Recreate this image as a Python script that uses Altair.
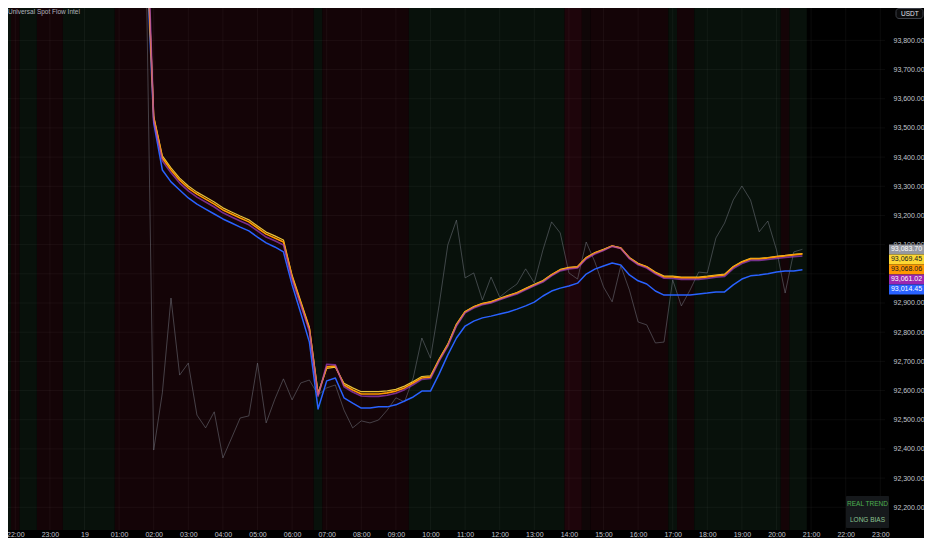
import altair as alt
import pandas as pd

# ---------------- data ----------------
AXIS_START = "2025-11-18 22:00"      # first labelled hour on the time axis
SERIES_START = "2025-11-19 01:45"    # first 15-minute bar of the plotted lines

spot = [94300, 92396, 92592, 92917, 92653, 92694, 92516, 92472, 92527, 92369, 92437, 92506, 92513,
        92694, 92489, 92570, 92640, 92568, 92626, 92636, 92585, 92609, 92619, 92533, 92472, 92496,
        92489, 92499, 92533, 92575, 92561, 92643, 92780, 92711, 92893, 93099, 93184, 92986, 93003,
        92910, 92989, 92920, 92944, 92965, 93017, 92969, 93082, 93178, 93140, 93003, 92982, 93109,
        93041, 92955, 92904, 93027, 92944, 92835, 92825, 92763, 92766, 92979, 92890, 92944, 93006,
        93003, 93123, 93174, 93253, 93301, 93253, 93144, 93181, 93082, 92934, 93075, 93084]

yellow = [94290, 93540, 93404, 93363, 93328, 93301, 93280, 93263, 93246, 93226, 93212, 93198, 93185,
          93164, 93143, 93130, 93116, 92995, 92906, 92817, 92592, 92676, 92680, 92625, 92609, 92596,
          92596, 92596, 92599, 92604, 92615, 92631, 92648, 92650, 92708, 92759, 92828, 92871, 92888,
          92899, 92905, 92916, 92926, 92936, 92950, 92964, 92977, 92998, 93015, 93022, 93025, 93056,
          93073, 93084, 93096, 93089, 93056, 93036, 93025, 93006, 92992, 92992, 92989, 92989, 92989,
          92992, 92996, 92999, 93025, 93042, 93053, 93053, 93056, 93060, 93063, 93067, 93069]

orange = [94280, 93534, 93397, 93356, 93321, 93294, 93273, 93256, 93239, 93219, 93205, 93191, 93178,
          93157, 93136, 93123, 93109, 92989, 92900, 92811, 92585, 92681, 92684, 92619, 92602, 92588,
          92588, 92588, 92592, 92598, 92609, 92626, 92643, 92646, 92705, 92756, 92825, 92869, 92886,
          92897, 92903, 92914, 92924, 92934, 92948, 92962, 92975, 92996, 93013, 93020, 93023, 93054,
          93071, 93082, 93095, 93088, 93054, 93034, 93023, 93003, 92989, 92989, 92986, 92986, 92986,
          92989, 92993, 92996, 93023, 93040, 93051, 93051, 93054, 93058, 93061, 93065, 93068]

purple = [94420, 93524, 93387, 93346, 93311, 93284, 93263, 93246, 93229, 93209, 93195, 93181, 93168,
          93147, 93126, 93113, 93099, 92980, 92892, 92803, 92580, 92690, 92688, 92613, 92595, 92581,
          92580, 92580, 92584, 92591, 92603, 92620, 92638, 92641, 92701, 92752, 92821, 92866, 92883,
          92894, 92900, 92911, 92921, 92931, 92945, 92959, 92972, 92993, 93010, 93017, 93020, 93051,
          93068, 93080, 93094, 93087, 93052, 93031, 93020, 93000, 92985, 92984, 92981, 92981, 92981,
          92984, 92988, 92991, 93018, 93035, 93046, 93046, 93049, 93053, 93056, 93059, 93061]

blue = [94200, 93517, 93356, 93315, 93287, 93260, 93239, 93222, 93205, 93188, 93174, 93160, 93147,
        93126, 93106, 93092, 93075, 92962, 92866, 92766, 92537, 92633, 92643, 92575, 92557, 92540,
        92540, 92544, 92544, 92551, 92564, 92578, 92598, 92598, 92657, 92722, 92780, 92821, 92838,
        92849, 92855, 92862, 92869, 92879, 92890, 92903, 92924, 92941, 92951, 92958, 92968, 92999,
        93016, 93027, 93037, 93030, 92996, 92976, 92965, 92941, 92927, 92927, 92927, 92927, 92931,
        92934, 92938, 92938, 92962, 92982, 92993, 92996, 93000, 93006, 93010, 93010, 93014]

# last-value price tags on the price scale
tag_names = ["Spot", "Yellow", "Orange", "Purple", "Blue"]
tag_values = [93083.70, 93069.45, 93068.06, 93061.02, 93014.45]
tag_fill = ["#9598a1", "#fdd835", "#ff9800", "#9c27b0", "#2962ff"]
tag_text = ["#ffffff", "#131722", "#131722", "#ffffff", "#ffffff"]

# background regime per run of 15-minute bars (first bar, last bar, state)
band_first = ["2025-11-18 21:30", "2025-11-18 22:00", "2025-11-18 22:15", "2025-11-18 22:45",
              "2025-11-18 23:30", "2025-11-19 01:00", "2025-11-19 06:45", "2025-11-19 07:00",
              "2025-11-19 09:30", "2025-11-19 14:00", "2025-11-19 14:30", "2025-11-19 14:45",
              "2025-11-19 17:00", "2025-11-19 17:15", "2025-11-19 17:45", "2025-11-19 20:15",
              "2025-11-19 20:30"]
band_last = ["2025-11-18 21:45", "2025-11-18 22:00", "2025-11-18 22:30", "2025-11-18 23:15",
             "2025-11-19 00:45", "2025-11-19 06:30", "2025-11-19 06:45", "2025-11-19 09:15",
             "2025-11-19 13:45", "2025-11-19 14:15", "2025-11-19 14:30", "2025-11-19 16:45",
             "2025-11-19 17:00", "2025-11-19 17:30", "2025-11-19 20:00", "2025-11-19 20:15",
             "2025-11-19 20:45"]
band_state = ["bull", "bear", "bull", "bear", "bull", "bear", "bull", "bear", "bull",
              "bear_strong", "bear_dim", "bear", "bull", "bear", "bull", "bear", "bull"]

price_ticks = list(range(92200, 93801, 100))
# the 93,000.00 price label is hidden behind the last-value tags on the price scale
price_labels = [p for p in price_ticks if p != 93000]
hour_ticks = pd.date_range("2025-11-18 22:00", "2025-11-19 23:00", freq="h")

# ---------------- layout ----------------
PLOT_W, PLOT_H = 877, 522
RIGHT, BOTTOM = 39, 8
Y_MIN, Y_MAX = 92122, 93911
X_LEFT_H, X_RIGHT_H = -0.211, 25.136


def ms(ts):
    return int(pd.Timestamp(ts).value // 10**6)


HOUR = 3600 * 1000
axis0 = ms(AXIS_START)
x_domain = [axis0 + X_LEFT_H * HOUR, axis0 + X_RIGHT_H * HOUR]

FONT = "Liberation Sans, Arial, sans-serif"
LABEL = "#c3c6ce"

xscale = alt.Scale(type="utc", domain=x_domain)
xaxis = alt.Axis(values=[ms(t) for t in hour_ticks], title=None, grid=False, ticks=False,
                 tickSize=0, domain=False, labelFlush=False, labelOverlap=False,
                 labelExpr="utchours(datum.value) == 0 ? utcFormat(datum.value, '%d') : utcFormat(datum.value, '%H:%M')",
                 labelBaseline="middle", labelPadding=4, labelFontSize=7, labelFont=FONT,
                 labelColor=LABEL)
yscale = alt.Scale(domain=[Y_MIN, Y_MAX], nice=False, zero=False)
yaxis = alt.Axis(values=price_labels, orient="right", format=",.2f", title=None, grid=False,
                 ticks=False, tickSize=0, domain=False, labelAlign="left", labelPadding=8,
                 labelFontSize=7, labelFont=FONT, labelColor=LABEL, labelBaseline="middle")


def X(field):
    return alt.X(field, type="temporal", scale=xscale, axis=xaxis)


def Y(field):
    return alt.Y(field, type="quantitative", scale=yscale, axis=yaxis)


# bands
half_bar = 7.5 * 60 * 1000
bands = pd.DataFrame({
    "t0": [ms(a) - half_bar for a in band_first],
    "t1": [ms(b) + half_bar for b in band_last],
    "state": band_state,
})
band_layer = alt.Chart(bands).mark_rect(clip=True).encode(
    x=X("t0"), x2="t1",
    color=alt.Color("state:N", legend=None,
                    scale=alt.Scale(domain=["bull", "bear", "bear_strong", "bear_dim"],
                                    range=["#08110b", "#140407", "#1e050b", "#0f0607"])),
)

# grid
vgrid = alt.Chart(pd.DataFrame({"t": [ms(t) for t in hour_ticks]})).mark_rule(
    clip=True, color="#ffffff", opacity=0.045, strokeWidth=1).encode(x=X("t"))
hgrid = alt.Chart(pd.DataFrame({"p": price_ticks})).mark_rule(
    clip=True, color="#ffffff", opacity=0.045, strokeWidth=1).encode(y=Y("p"))


def series_df(values):
    times = pd.date_range(SERIES_START, periods=len(values), freq="15min")
    return pd.DataFrame({"t": [ms(t) for t in times], "v": values})


def line(values, color, width, opacity=1.0):
    return alt.Chart(series_df(values)).mark_line(
        clip=True, color=color, strokeWidth=width, opacity=opacity,
        strokeJoin="round").encode(x=X("t"), y=Y("v"))


spot_layer = line(spot, "#787b86", 1, 0.5)
blue_layer = line(blue, "#2962ff", 1.5)
yellow_layer = line(yellow, "#ffd740", 1.2, 0.9)
orange_layer = line(orange, "#ff9800", 1.6)
purple_layer = line(purple, "#a33fc4", 1.6, 0.7)

# price tags stacked so that they do not overlap
px_per = PLOT_H / (Y_MAX - Y_MIN)
tag_h = 10 / px_per
order = sorted(range(len(tag_values)), key=lambda i: -tag_values[i])
mids = {}
prev = None
for i in order:
    m = tag_values[i] if prev is None else min(tag_values[i], prev - tag_h)
    mids[i] = m
    prev = m
tags = pd.DataFrame({
    "name": tag_names,
    "label": [f"{v:,.2f}" for v in tag_values],
    "mid": [mids[i] for i in range(len(tag_values))],
    "top": [mids[i] + tag_h / 2 for i in range(len(tag_values))],
    "bot": [mids[i] - tag_h / 2 for i in range(len(tag_values))],
    "fill": tag_fill,
    "tc": tag_text,
})
tag_box = alt.Chart(tags).mark_rect().encode(
    x=alt.value(PLOT_W + 4), x2=alt.value(PLOT_W + RIGHT),
    y=Y("top"), y2="bot", color=alt.Color("fill:N", scale=None))
tag_txt = alt.Chart(tags).mark_text(fontSize=7, font=FONT, align="center", baseline="middle").encode(
    x=alt.value(PLOT_W + 4 + (RIGHT - 4) / 2), y=Y("mid"), text="label:N",
    color=alt.Color("tc:N", scale=None))

one = pd.DataFrame({"a": [0]})
title_txt = alt.Chart(one).mark_text(text="Universal Spot Flow Intel", align="left", baseline="middle",
                                     fontSize=6.5, font=FONT, color="#b2b5be").encode(
    x=alt.value(0), y=alt.value(4))
usdt_box = alt.Chart(one).mark_rect(fill="#0b0b0c", stroke="#3d4048", strokeWidth=1, cornerRadius=3).encode(
    x=alt.value(888), x2=alt.value(915), y=alt.value(0.5), y2=alt.value(10.5))
usdt_txt = alt.Chart(one).mark_text(text="USDT", align="left", baseline="middle", fontSize=6.5,
                                    font=FONT, color="#e0e3eb").encode(x=alt.value(893), y=alt.value(5.5))
trend_box = alt.Chart(one).mark_rect(fill="#16191c", cornerRadius=1).encode(
    x=alt.value(838), x2=alt.value(881), y=alt.value(488), y2=alt.value(520))
trend_txt1 = alt.Chart(one).mark_text(text="REAL TREND", align="center", baseline="middle", fontSize=6.5,
                                      font=FONT, color="#4caf50").encode(x=alt.value(859.5), y=alt.value(495.5))
trend_txt2 = alt.Chart(one).mark_text(text="LONG BIAS", align="center", baseline="middle", fontSize=6.5,
                                      font=FONT, color="#8bc391").encode(x=alt.value(859.5), y=alt.value(511.5))

chart = alt.layer(
    band_layer, vgrid, hgrid, spot_layer, blue_layer, yellow_layer, orange_layer, purple_layer,
    tag_box, tag_txt, title_txt, usdt_box, usdt_txt, trend_box, trend_txt1, trend_txt2,
).properties(
    width=PLOT_W, height=PLOT_H,
    autosize=alt.AutoSizeParams(type="none"),
    padding={"left": 0, "top": 0, "right": RIGHT, "bottom": BOTTOM},
).configure(background="#000000").configure_view(stroke=None)

chart.save("out.html", embed_options={"renderer": "svg", "actions": False})
